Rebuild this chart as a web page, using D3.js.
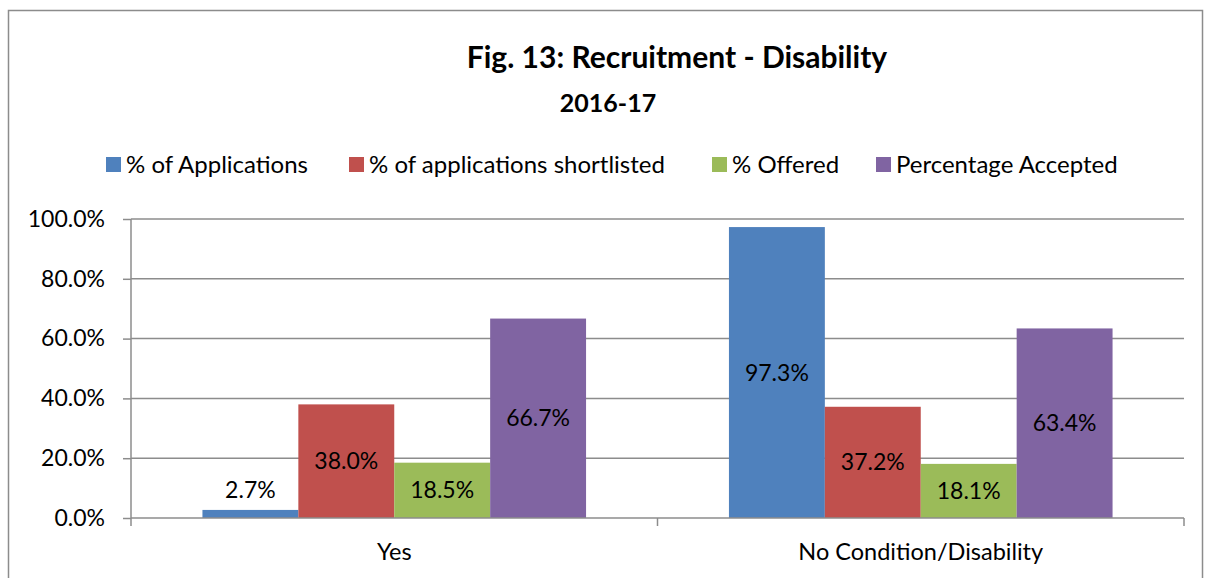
<!DOCTYPE html>
<html>
<head>
<meta charset="utf-8">
<script src="https://cdn.jsdelivr.net/npm/d3@7"></script>
<style>
  body { margin: 0; background: #fff; }
  text { font-family: Lato, "Open Sans", sans-serif; fill: #000; }
</style>
</head>
<body>
<div id="chart-area"></div>
<script>
const categories = ["Yes", "No Condition/Disability"];
const seriesNames = [
  "% of Applications",
  "% of applications shortlisted",
  "% Offered",
  "Percentage Accepted"
];
const applications = [0.027, 0.973];
const shortlisted = [0.38, 0.372];
const offered = [0.185, 0.181];
const accepted = [0.667, 0.634];
const yTicks = [0, 0.2, 0.4, 0.6, 0.8, 1.0];

const colors = ["#4F81BD", "#C0504D", "#9BBB59", "#8064A2"];
const seriesValues = [applications, shortlisted, offered, accepted];

const width = 1207,
  height = 578;
const margin = { top: 219, right: 23, bottom: 60, left: 131 };
const plotW = width - margin.left - margin.right,
  plotH = 518 - margin.top;

const svg = d3
  .select("#chart-area")
  .append("svg")
  .attr("width", width)
  .attr("height", height);

// outer chart border
svg
  .append("rect")
  .attr("x", 8.5)
  .attr("y", 10.5)
  .attr("width", 1194)
  .attr("height", 600)
  .attr("fill", "none")
  .attr("stroke", "#8c8c8c")
  .attr("stroke-width", 1.5);

// Title
svg
  .append("text")
  .attr("x", 677)
  .attr("y", 68)
  .attr("text-anchor", "middle")
  .attr("font-size", "30px")
  .attr("font-weight", "bold")
  .text("Fig. 13: Recruitment - Disability");

svg
  .append("text")
  .attr("x", 608)
  .attr("y", 112)
  .attr("text-anchor", "middle")
  .attr("font-size", "25px")
  .attr("font-weight", "bold")
  .text("2016-17");

// Legend
const legendX = [106, 349, 712, 876];
const legend = svg
  .selectAll(".legend")
  .data(seriesNames)
  .enter()
  .append("g")
  .attr("class", "legend")
  .attr("transform", (d, i) => "translate(" + legendX[i] + ",157)");

legend
  .append("rect")
  .attr("width", 15)
  .attr("height", 15)
  .attr("fill", (d, i) => colors[i]);

legend
  .append("text")
  .attr("x", 20)
  .attr("y", 16)
  .attr("font-size", "24px")
  .text(d => d);

const g = svg
  .append("g")
  .attr("transform", "translate(" + margin.left + "," + margin.top + ")");

// Scales
const x0 = d3.scaleBand().domain(categories).range([0, plotW]);
const x1 = d3
  .scaleBand()
  .domain(d3.range(seriesNames.length))
  .range([0, x0.bandwidth()])
  .paddingOuter(0.745);
const y = d3.scaleLinear().domain([0, 1]).range([plotH, 0]);

// Gridlines
g
  .selectAll(".grid")
  .data(yTicks.slice(1))
  .enter()
  .append("line")
  .attr("x1", 0)
  .attr("x2", plotW)
  .attr("y1", d => y(d))
  .attr("y2", d => y(d))
  .attr("stroke", "#8c8c8c")
  .attr("stroke-width", 1.5);

// Y axis
const yAxisGroup = g
  .append("g")
  .call(
    d3
      .axisLeft(y)
      .tickValues(yTicks)
      .tickFormat(d3.format(".1%"))
      .tickSize(8)
      .tickPadding(18)
  );
yAxisGroup.selectAll("line, path").attr("stroke", "#8c8c8c").attr("stroke-width", 1.5);
yAxisGroup.select("path").attr("d", "M0," + plotH + "V0");
yAxisGroup
  .selectAll("text")
  .attr("font-size", "23px")
  .style("font-family", "Lato, sans-serif");

// Bars
const groups = g
  .selectAll(".cat")
  .data(categories)
  .enter()
  .append("g")
  .attr("class", "cat")
  .attr("transform", d => "translate(" + x0(d) + ",0)");

const bars = groups
  .selectAll("rect")
  .data((c, ci) => seriesValues.map((s, si) => ({ si: si, v: s[ci] })))
  .enter();

bars
  .append("rect")
  .attr("x", d => x1(d.si))
  .attr("y", d => y(d.v))
  .attr("width", x1.bandwidth())
  .attr("height", d => plotH - y(d.v))
  .attr("fill", d => colors[d.si]);

bars
  .append("text")
  .attr("x", d => x1(d.si) + x1.bandwidth() / 2)
  .attr("y", d => {
    const h = plotH - y(d.v);
    return h > 30 ? y(d.v) + h / 2 : y(d.v) - 20;
  })
  .attr("dy", "0.35em")
  .attr("text-anchor", "middle")
  .attr("font-size", "23px")
  .text(d => d3.format(".1%")(d.v));

// X axis
const xAxisGroup = g.append("g").attr("transform", "translate(0," + plotH + ")");
xAxisGroup
  .append("line")
  .attr("x1", 0)
  .attr("x2", plotW)
  .attr("stroke", "#8c8c8c")
  .attr("stroke-width", 1.5);
xAxisGroup
  .selectAll(".tick")
  .data(categories.map(c => x0(c)).concat([plotW]))
  .enter()
  .append("line")
  .attr("x1", d => d)
  .attr("x2", d => d)
  .attr("y1", 0)
  .attr("y2", 8)
  .attr("stroke", "#8c8c8c")
  .attr("stroke-width", 1.5);
xAxisGroup
  .selectAll(".label")
  .data(categories)
  .enter()
  .append("text")
  .attr("x", d => x0(d) + x0.bandwidth() / 2)
  .attr("y", 42)
  .attr("text-anchor", "middle")
  .attr("font-size", "23.5px")
  .text(d => d);
</script>
</body>
</html>
